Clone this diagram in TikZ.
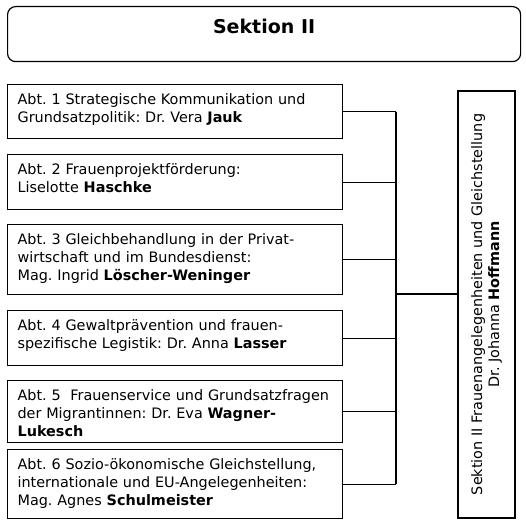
\documentclass[tikz,border=0pt]{standalone}
\usepackage{fontspec}
\setmainfont{DejaVu Sans}
\usetikzlibrary{positioning}

\begin{document}
\frenchspacing
\begin{tikzpicture}[x=1pt, y=-1pt, line width=1.2pt,
		abt/.style = {draw, anchor=north west, inner xsep=10pt, inner ysep=0pt, text width=315pt, align=left, text height=20pt, font=\fontsize{14.4}{18}\selectfont},
		leiter/.style = {draw, rotate=90, minimum width=427pt, minimum height=57pt, align=center, font=\fontsize{14.4}{17}\selectfont}]
		\useasboundingbox (0,0) rectangle (525,527);
		\node[draw, rounded corners=8pt, anchor=north west, minimum width=513pt, inner ysep=0pt, text height=27pt, text depth=28pt, font=\fontsize{19}{21}\selectfont\bfseries] (sektion) at (7,6) {Sektion II};
		
		\node[abt, text depth=34pt] (abt1) at (7,84) {Abt. 1 Strategische Kommunikation und\\Grundsatzpolitik: Dr. Vera \textbf{Jauk}};
		\node[abt, text depth=35pt] (abt2) at (7,154) {Abt. 2 Frauenprojektförderung:\\Liselotte \textbf{Haschke}};
		\node[abt, text depth=50pt] (abt3) at (7,224) {Abt. 3 Gleichbehandlung in der Privat-\\wirtschaft und im Bundesdienst:\\Mag. Ingrid \textbf{Löscher-Weninger}};
		\node[abt, text depth=35pt] (abt4) at (7,310) {Abt. 4 Gewaltprävention und frauen-\\spezifische Legistik: Dr. Anna \textbf{Lasser}};
		\node[abt, text depth=42pt] (abt5) at (7,380) {Abt. 5~ Frauenservice und Grundsatzfragen\\der Migrantinnen: Dr. Eva \textbf{Wagner-}\\\textbf{Lukesch}};
		\node[abt, text depth=49pt] (abt6) at (7,449) {Abt. 6 Sozio-ökonomische Gleichstellung,\\internationale und EU-Angelegenheiten:\\Mag. Agnes \textbf{Schulmeister}};
		
		\node[leiter] (leitung) at (486.5,304.5) {Sektion II Frauenangelegenheiten und Gleichstellung\\Dr. Johanna \textbf{Hoffmann}};
		
		\coordinate (bus) at (396,294);
		\foreach \i in {1,...,6}
			\draw (abt\i.east) -- (abt\i.east -| bus);
		\draw (abt1.east -| bus) -- (abt6.east -| bus);
		\draw (bus) -- (bus -| leitung.north);
	\end{tikzpicture}
\end{document}
